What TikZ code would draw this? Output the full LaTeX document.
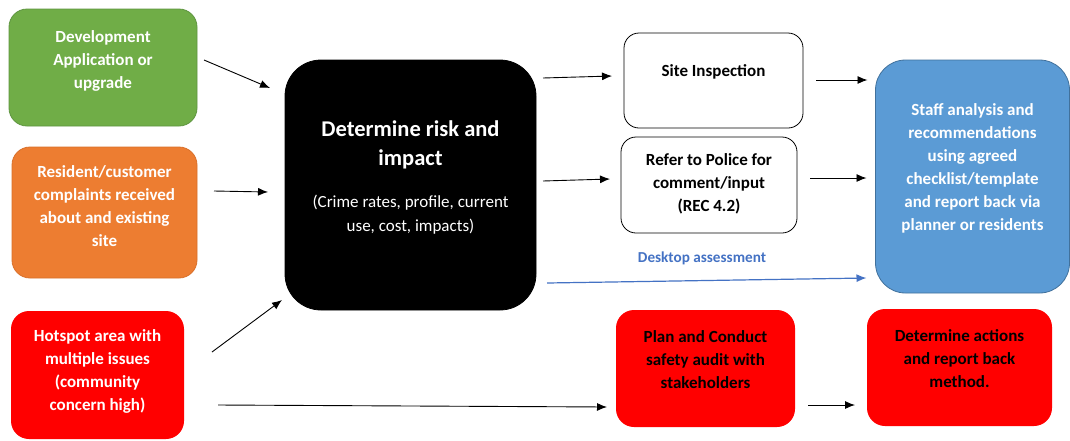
\documentclass[tikz,border=0pt]{standalone}
\usepackage{fontspec}
\setmainfont{Carlito}
\usetikzlibrary{arrows.meta}
\definecolor{cgreen}{HTML}{70AD47}
\definecolor{cgreenb}{HTML}{5E9540}
\definecolor{corange}{HTML}{ED7D31}
\definecolor{coraneb}{HTML}{D9702A}
\definecolor{cblue}{HTML}{5B9BD5}
\definecolor{cblueb}{HTML}{41719C}
\definecolor{cdesk}{HTML}{4472C4}
\begin{document}
\begin{tikzpicture}[x=1pt,y=-1pt,
  box/.style={rectangle,inner sep=0pt,outer sep=0pt,line width=0.8pt},
  txt/.style={inner sep=0pt,align=center,font=\bfseries\fontsize{17}{23}\selectfont},
  arr/.style={line width=0.9pt,-{Latex[length=10pt,width=8pt]}},
  darr/.style={line width=1.2pt,draw=cdesk,-{Latex[length=10pt,width=8pt]}}]
\useasboundingbox[fill=white] (0,0) rectangle (1070,440);
% boxes
\node[box,fill=cgreen,draw=cgreenb,rounded corners=18pt,minimum width=188pt,minimum height=117pt] (green) at (103,67.5) {};
\node[box,fill=corange,draw=coraneb,rounded corners=18pt,minimum width=185pt,minimum height=131pt] (orange) at (104.5,212.5) {};
\node[box,fill=red,rounded corners=18pt,minimum width=173pt,minimum height=128pt] (hot) at (97.5,375) {};
\node[box,fill=black,draw=black,rounded corners=36pt,minimum width=251pt,minimum height=250pt] (black) at (410.5,185) {};
\node[box,fill=white,draw=black,rounded corners=15pt,minimum width=179pt,minimum height=95pt] (site) at (713.5,80.5) {};
\node[box,fill=white,draw=black,rounded corners=15pt,minimum width=176pt,minimum height=96pt] (refer) at (709,185) {};
\node[box,fill=cblue,draw=cblueb,rounded corners=30pt,minimum width=194pt,minimum height=233pt] (blue) at (972.5,176.5) {};
\node[box,fill=red,rounded corners=18pt,minimum width=179pt,minimum height=117pt] (plan) at (705.5,368.5) {};
\node[box,fill=red,rounded corners=18pt,minimum width=185pt,minimum height=117pt] (det) at (959.5,367.5) {};
% texts
\node[txt,text=white] (greent) at (103,61) {Development\\Application or\\upgrade};
\node[txt,text=white] (oranget) at (104.5,206.5) {Resident/customer\\complaints received\\about and existing\\site};
\node[txt,text=white] (hott) at (97.5,371.5) {Hotspot area with\\multiple issues\\(community\\concern high)};
\node[txt,text=white,font=\bfseries\fontsize{22.5}{29}\selectfont] (blackt) at (410.5,144.5) {Determine risk and\\impact};
\node[txt,text=white,font=\fontsize{17}{24}\selectfont] (blacks) at (410.5,215) {(Crime rates, profile, current\\use, cost, impacts)};
\node[txt] (sitet) at (713.5,72) {Site Inspection};
\node[txt] (refert) at (709,184) {Refer to Police for\\comment/input\\(REC 4.2)};
\node[txt,text=white] (bluet) at (972.5,168) {Staff analysis and\\recommendations\\using agreed\\checklist/template\\and report back via\\planner or residents};
\node[txt] (plant) at (705.5,360) {Plan and Conduct\\safety audit with\\stakeholders};
\node[txt] (dett) at (959.5,359) {Determine actions\\and report back\\method.};
\node[txt,text=cdesk,font=\bfseries\fontsize{15.2}{18}\selectfont] (desk) at (702,258) {Desktop assessment};
% arrows
\draw[arr] ([shift={(7,-7.5)}]green.east) -- ([shift={(-15,-97)}]black.west);
\draw[arr] ([shift={(17,-21.5)}]orange.east) -- ([shift={(-17,7)}]black.west);
\draw[arr] ([shift={(28,-23)}]hot.east) -- ([shift={(-3,115)}]black.west);
\draw[arr] ([shift={(34,30)}]hot.east) -- ([shift={(-9,38.5)}]plan.west);
\draw[arr] ([shift={(7,-107)}]black.east) -- ([shift={(-12,-4.5)}]site.west);
\draw[arr] ([shift={(7,-4)}]black.east) -- ([shift={(-11,-6)}]refer.west);
\draw[darr] ([shift={(11,98)}]black.east) -- ([shift={(-9,101.5)}]blue.west);
\draw[arr] ([shift={(13,-0.5)}]site.east) -- ([shift={(-8,-96.5)}]blue.west);
\draw[arr] ([shift={(13,-7)}]refer.east) -- ([shift={(-9,1.5)}]blue.west);
\draw[arr] ([shift={(13,36.5)}]plan.east) -- ([shift={(-12,37.5)}]det.west);
\end{tikzpicture}
\end{document}
